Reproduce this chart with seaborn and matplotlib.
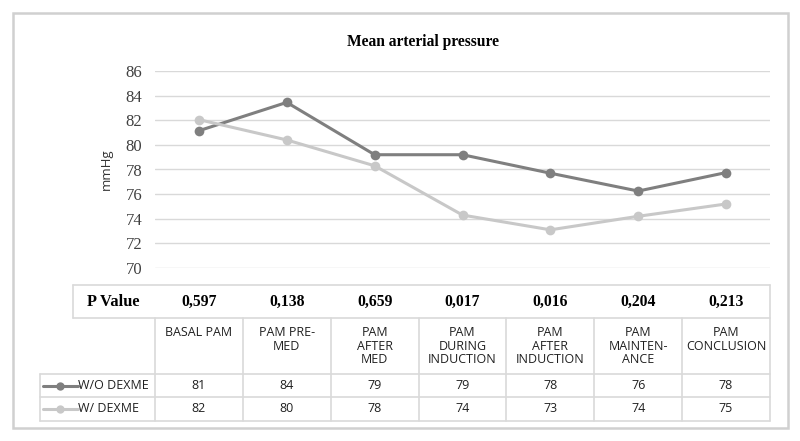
import numpy as np
import pandas as pd
import matplotlib
matplotlib.use("Agg")
import matplotlib.pyplot as plt
import seaborn as sns
from matplotlib.patches import Rectangle
from matplotlib.lines import Line2D

# ---------------- data ----------------
categories = ["BASAL PAM", "PAM PRE-\nMED", "PAM\nAFTER\nMED", "PAM\nDURING\nINDUCTION",
              "PAM\nAFTER\nINDUCTION", "PAM\nMAINTEN-\nANCE", "PAM\nCONCLUSION"]
series_names = ["W/O DEXME", "W/ DEXME"]
wo_dexme = [81.15, 83.45, 79.2, 79.2, 77.7, 76.25, 77.75]
w_dexme = [82.05, 80.4, 78.3, 74.3, 73.1, 74.2, 75.2]
wo_labels = ["81", "84", "79", "79", "78", "76", "78"]
w_labels = ["82", "80", "78", "74", "73", "74", "75"]
p_values = ["0,597", "0,138", "0,659", "0,017", "0,016", "0,204", "0,213"]
y_ticks = [70, 72, 74, 76, 78, 80, 82, 84, 86]
title_text = "Mean arterial pressure"
y_label = "mmHg"
p_label = "P Value"

colors = ["#7f7f7f", "#c8c8c8"]
grid_c = "#d9d9d9"
serif = ["Liberation Serif", "DejaVu Serif"]
sans = ["Open Sans", "DejaVu Sans"]

sns.set_style("white")
plt.rcParams["font.family"] = sans

W, H = 800, 441
fig = plt.figure(figsize=(W / 100, H / 100), dpi=100)

# pixel geometry
px_l, px_r = 155, 770
px_top, px_bot = 71, 268
ax = fig.add_axes([px_l / W, 1 - px_bot / H, (px_r - px_l) / W, (px_bot - px_top) / H])
ax.patch.set_alpha(0)

n = len(categories)
df = pd.DataFrame({
    "x": list(range(n)) * 2,
    "value": wo_dexme + w_dexme,
    "series": [series_names[0]] * n + [series_names[1]] * n,
})
sns.lineplot(data=df, x="x", y="value", hue="series", palette=colors, marker="o",
             markersize=7, markeredgewidth=0, linewidth=2.2, legend=False, ax=ax,
             hue_order=series_names)
ax.set_xlim(-0.5, n - 0.5)
ax.set_ylim(70, 86)
ax.set_yticks(y_ticks)
ax.set_xticks([])
ax.set_xlabel("")
ax.set_ylabel(y_label, fontsize=9.5, color="#333333", family=sans, labelpad=9)
ax.yaxis.grid(True, color=grid_c, linewidth=1)
ax.set_axisbelow(True)
ax.tick_params(axis="y", length=0, pad=9, labelsize=12, labelcolor="#404040")
for lab in ax.get_yticklabels():
    lab.set_family(serif)
for s in ax.spines.values():
    s.set_visible(False)

# ---------------- table / frame overlay (pixel coordinates) ----------------
ov = fig.add_axes([0, 0, 1, 1], zorder=-1)
ov.set_xlim(0, W)
ov.set_ylim(H, 0)
ov.axis("off")

ov.add_patch(Rectangle((13, 13), 775, 415, fill=False, edgecolor="#d0d0d0", linewidth=1.8))
ov.text(423, 42, title_text, ha="center", va="center", fontsize=11.2, fontweight="bold",
        family=serif, color="#000000")

col_w = (px_r - px_l) / n
lc = grid_c
lw = 1.2
p_top, p_bot = 285, 318
hdr_bot, r1_bot, r2_bot = 374, 397, 421
leg_l, p_l = 40, 73
ov.plot([p_l, px_r], [p_top, p_top], color=lc, lw=lw)
ov.plot([p_l, px_r], [p_bot, p_bot], color=lc, lw=lw)
ov.plot([p_l, p_l], [p_top, p_bot], color=lc, lw=lw)
ov.plot([px_r, px_r], [p_top, r2_bot], color=lc, lw=lw)
for yy in (hdr_bot, r1_bot, r2_bot):
    ov.plot([leg_l, px_r], [yy, yy], color=lc, lw=lw)
ov.plot([leg_l, leg_l], [hdr_bot, r2_bot], color=lc, lw=lw)
for i in range(n):
    xx = px_l + i * col_w
    ov.plot([xx, xx], [p_bot, r2_bot], color=lc, lw=lw)

ov.text((p_l + px_l) / 2 - 0.5, (p_top + p_bot) / 2, p_label, ha="center", va="center",
        fontsize=11.8, fontweight="bold", family=serif, color="#000000")
for i in range(n):
    cx = px_l + (i + 0.5) * col_w
    ov.text(cx, (p_top + p_bot) / 2, p_values[i], ha="center", va="center",
            fontsize=11.3, fontweight="bold", family=serif, color="#000000")
    ov.text(cx, 326, categories[i], ha="center", va="top", fontsize=9,
            linespacing=1.05, color="#202020")
    ov.text(cx, (hdr_bot + r1_bot) / 2, wo_labels[i], ha="center", va="center",
            fontsize=9, color="#202020")
    ov.text(cx, (r1_bot + r2_bot) / 2, w_labels[i], ha="center", va="center",
            fontsize=9, color="#202020")

for k, (name, c) in enumerate(zip(series_names, colors)):
    yc = (hdr_bot + r1_bot) / 2 if k == 0 else (r1_bot + r2_bot) / 2
    ov.add_line(Line2D([43, 78], [yc, yc], color=c, lw=2.2))
    ov.plot([60], [yc], marker="o", color=c, markersize=6, markeredgewidth=0)
    ov.text(78, yc, name, ha="left", va="center", fontsize=9, color="#202020")

fig.savefig("out.png", dpi=100)
